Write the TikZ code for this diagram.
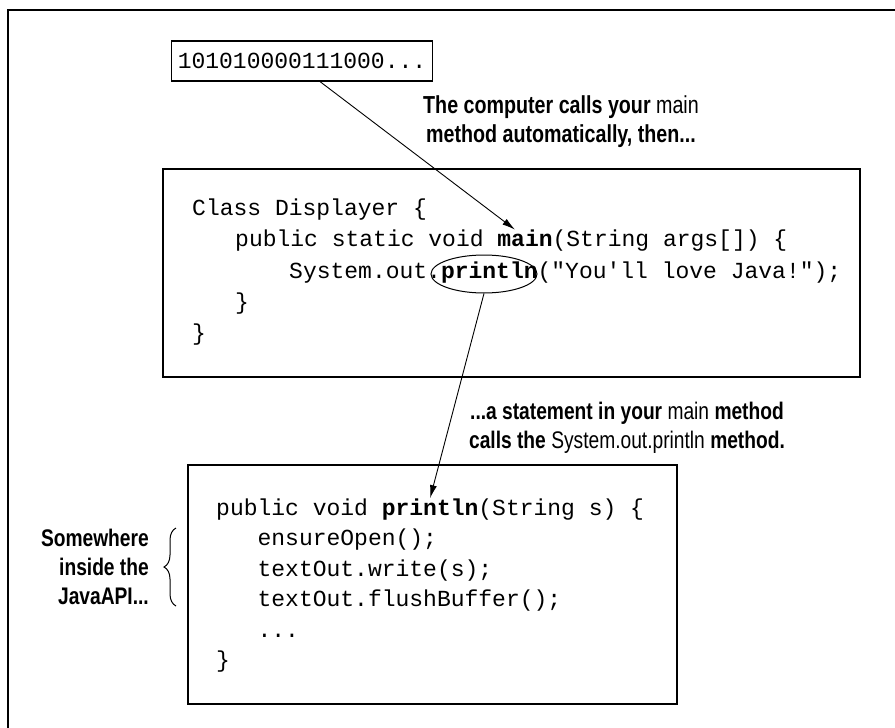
\documentclass[tikz,border=0pt]{standalone}
\usepackage{fontspec}
\setmonofont{Liberation Mono}
\newfontfamily\lab[FakeStretch=0.8]{Liberation Sans}
\usetikzlibrary{arrows.meta,decorations.pathreplacing,shapes.geometric}
\begin{document}
\begin{tikzpicture}[x=1pt,y=-1pt,
  boxstyle/.style={draw, line width=1.2pt, inner sep=0pt},
  code/.style={anchor=base west, inner sep=0pt, font=\ttfamily\fontsize{23}{23}\selectfont},
  lbl/.style={font=\lab\bfseries\fontsize{24}{29}\selectfont, align=center, inner sep=0pt},
  arr/.style={-{Latex[length=13pt,width=7pt]}, line width=0.9pt}]
\useasboundingbox (0,0) rectangle (895,728);
% outer frame
\coordinate (fbl) at (7.5,728);
\coordinate (ftl) at (7.5,9.5);
\coordinate (ftr) at (895,9.5);
\draw[line width=2pt] (fbl) -- (ftl) -- (ftr);
% binary box
\node[boxstyle, minimum width=261pt, minimum height=40pt,
      font=\ttfamily\fontsize{23}{23}\selectfont] (bin) at (302,61) {101010000111000...};
% main box
\node[boxstyle, minimum width=697pt, minimum height=208pt] (mainbox) at (511.5,273) {};
\node[code] (l1) at (192,215) {Class Displayer \{};
\node[code] (l2a) at (235,246.5) {public static void};
\node[code] (mainw) at (497.2,246.5) {\textbf{main}};
\node[code] (l2b) at (552.4,246.5) {(String args[]) \{};
\node[code] (l3a) at (289,278) {System.out.};
\node[code] (pln) at (440.8,278) {\textbf{println}};
\node[code] (l3b) at (537.4,278) {("You'll love Java!");};
\node[code] (l4) at (235,309) {\}};
\node[code] (l5) at (192,340) {\}};
\node[draw, ellipse, line width=1pt, minimum width=106pt, minimum height=38pt, inner sep=0pt]
  (ell) at (484,274) {};
% bottom box
\node[boxstyle, minimum width=489pt, minimum height=239pt] (apibox) at (432.5,584.5) {};
\node[code] (m1a) at (216,515) {public void};
\node[code] (pln2) at (381.6,515) {\textbf{println}};
\node[code] (m1b) at (478.2,515) {(String s) \{};
\node[code] (m2) at (257.4,545.5) {ensureOpen();};
\node[code] (m3) at (257.4,576) {textOut.write(s);};
\node[code] (m4) at (257.4,606.5) {textOut.flushBuffer();};
\node[code] (m5) at (257.4,637) {...};
\node[code] (m6) at (216,667.5) {\}};
% labels
\node[lbl, font=\lab\bfseries\fontsize{24.6}{29}\selectfont] (lab1) at (561,122) {The computer calls your {\mdseries main}\\method automatically, then...};
\node[lbl] (lab2) at (627,428) {...a statement in your {\mdseries main} method\\calls the {\mdseries System.out.println} method.};
\node[lbl, align=right, anchor=east] (lab3) at (149,567) {Somewhere\\inside the\\JavaAPI...};
% brace
\coordinate (bra) at (176,606);
\coordinate (brb) at (176,528);
\draw[decorate, decoration={brace, amplitude=12pt}, line width=1pt] (bra) -- (brb);
% arrows
\draw[arr] ([xshift=18pt]bin.south) -- ([xshift=-10pt]mainw.north);
\draw[arr] (ell.south) -- (pln2.north);
\end{tikzpicture}
\end{document}
